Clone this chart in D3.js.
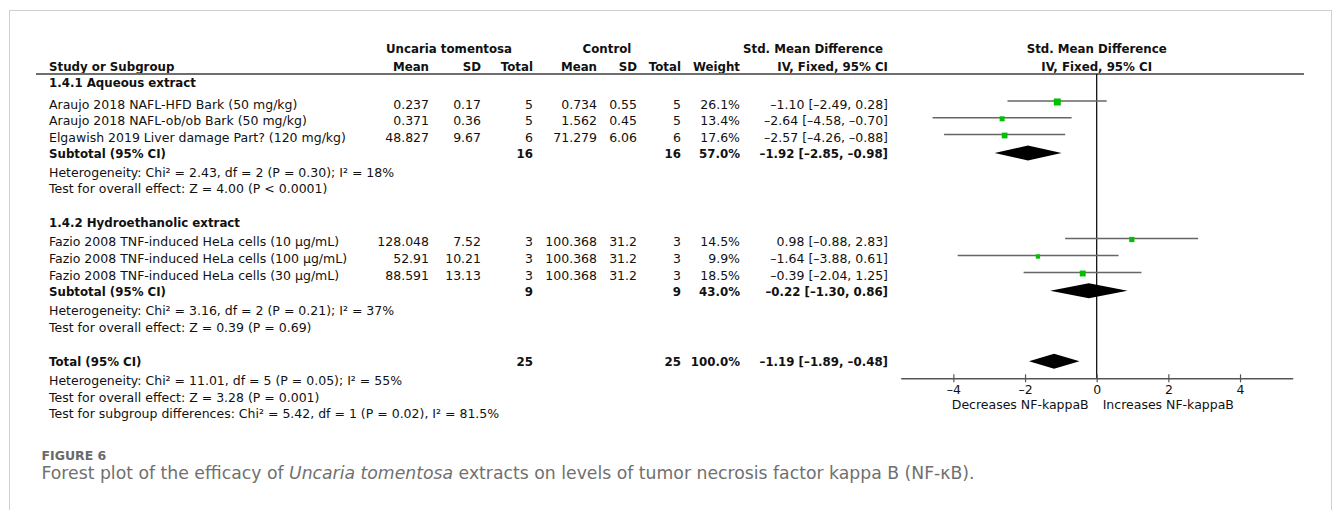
<!DOCTYPE html>
<html>
<head>
<meta charset="utf-8">
<script src="https://cdn.jsdelivr.net/npm/d3@7"></script>
<style>
  body { margin: 0; background: #fff; }
  svg { display: block; }
  text { font-family: "DejaVu Sans", sans-serif; fill: #111; }
</style>
</head>
<body>
<svg id="chart" width="1333" height="510"></svg>
<script>
// ---- Study-level data ----
const studyNames = [
  "Araujo 2018 NAFL-HFD Bark (50 mg/kg)",
  "Araujo 2018 NAFL-ob/ob Bark (50 mg/kg)",
  "Elgawish 2019 Liver damage Part? (120 mg/kg)",
  "Fazio 2008 TNF-induced HeLa cells (10 µg/mL)",
  "Fazio 2008 TNF-induced HeLa cells (100 µg/mL)",
  "Fazio 2008 TNF-induced HeLa cells (30 µg/mL)"
];
const studyGroup = [0, 0, 0, 1, 1, 1];
const utMean  = ["0.237", "0.371", "48.827", "128.048", "52.91", "88.591"];
const utSD    = ["0.17", "0.36", "9.67", "7.52", "10.21", "13.13"];
const utN     = [5, 5, 6, 3, 3, 3];
const ctlMean = ["0.734", "1.562", "71.279", "100.368", "100.368", "100.368"];
const ctlSD   = ["0.55", "0.45", "6.06", "31.2", "31.2", "31.2"];
const ctlN    = [5, 5, 6, 3, 3, 3];
const weight  = [26.1, 13.4, 17.6, 14.5, 9.9, 18.5];
const smd     = [-1.10, -2.64, -2.57, 0.98, -1.64, -0.39];
const ciLow   = [-2.49, -4.58, -4.26, -0.88, -3.88, -2.04];
const ciHigh  = [0.28, -0.70, -0.88, 2.83, 0.61, 1.25];

// ---- Subgroup data ----
const groupNames = ["1.4.1 Aqueous extract", "1.4.2 Hydroethanolic extract"];
const subUtN     = [16, 9];
const subCtlN    = [16, 9];
const subWeight  = [57.0, 43.0];
const subSmd     = [-1.92, -0.22];
const subLow     = [-2.85, -1.30];
const subHigh    = [-0.98, 0.86];
const subHet = [
  "Heterogeneity: Chi² = 2.43, df = 2 (P = 0.30); I² = 18%",
  "Heterogeneity: Chi² = 3.16, df = 2 (P = 0.21); I² = 37%"
];
const subTest = [
  "Test for overall effect: Z = 4.00 (P < 0.0001)",
  "Test for overall effect: Z = 0.39 (P = 0.69)"
];

// ---- Overall pooled estimate ----
const totalUtN = 25, totalCtlN = 25, totalWeight = 100.0;
const totalSmd = -1.19, totalLow = -1.89, totalHigh = -0.48;
const totalNotes = [
  "Heterogeneity: Chi² = 11.01, df = 5 (P = 0.05); I² = 55%",
  "Test for overall effect: Z = 3.28 (P = 0.001)",
  "Test for subgroup differences: Chi² = 5.42, df = 1 (P = 0.02), I² = 81.5%"
];

// ---- Axis ----
const axisTicks = [-4, -2, 0, 2, 4];
const axisLeftLabel = "Decreases NF-kappaB";
const axisRightLabel = "Increases NF-kappaB";

// ---- Layout ----
const col = { study: 49, utMean: 429, utSD: 481, utN: 533, ctlMean: 597, ctlSD: 637, ctlN: 681, weight: 740, ci: 888 };
const studyBaseline = [108.5, 125.3, 142, 246, 263, 280];
const groupBaseline = [87.3, 226.7];
const subBaseline   = [158, 295.7];
const subNoteBaseline = [[176.7, 193.3], [315, 331.7]];
const totalBaseline = 365.7;
const totalNoteBaseline = [385, 401.7, 418.3];
const axisY = 378.3;
const topRule = 74;
const FS = 12.5;      // regular text size
const FSB = 11.8;     // bold text size

const loc = d3.formatLocale({ decimal: ".", thousands: ",", grouping: [3], currency: ["", ""], minus: "\u2013" });
const f2 = loc.format(".2f");
const f1 = loc.format(".1f");
const fTick = loc.format("d");
const ciText = (m, l, h) => `${f2(m)} [${f2(l)}, ${f2(h)}]`;

const svg = d3.select("#chart");

// Outer panel border
svg.append("rect").attr("x", 9.5).attr("y", 10.5).attr("width", 1322).attr("height", 560)
  .attr("fill", "none").attr("stroke", "#cfcfcf").attr("stroke-width", 1);

const x = d3.scaleLinear().domain([-5.47, 5.47]).range([900.7, 1292.7]);
const boxSize = d3.scaleSqrt().domain([0, 26.1]).range([0, 7]);

function txt(xp, yp, s, anchor = "start", bold = false) {
  return svg.append("text").attr("x", xp).attr("y", yp).attr("text-anchor", anchor)
    .attr("font-size", bold ? FSB : FS).attr("font-weight", bold ? "bold" : "normal").text(s);
}

// Column headers
txt(449, 53, "Uncaria tomentosa", "middle", true);
txt(607, 53, "Control", "middle", true);
txt(883, 53, "Std. Mean Difference", "end", true);
txt(x(0), 53, "Std. Mean Difference", "middle", true);
txt(col.study, 70.7, "Study or Subgroup", "start", true);
txt(col.utMean, 70.7, "Mean", "end", true);
txt(col.utSD, 70.7, "SD", "end", true);
txt(col.utN, 70.7, "Total", "end", true);
txt(col.ctlMean, 70.7, "Mean", "end", true);
txt(col.ctlSD, 70.7, "SD", "end", true);
txt(col.ctlN, 70.7, "Total", "end", true);
txt(col.weight, 70.7, "Weight", "end", true);
txt(col.ci, 70.7, "IV, Fixed, 95% CI", "end", true);
txt(x(0), 70.7, "IV, Fixed, 95% CI", "middle", true);

svg.append("line").attr("x1", 36).attr("x2", 1304).attr("y1", topRule).attr("y2", topRule)
  .attr("stroke", "#6e6e6e").attr("stroke-width", 2);

// Group headers, subtotals and notes
groupNames.forEach((g, i) => {
  txt(col.study, groupBaseline[i], g, "start", true);
  txt(col.study, subBaseline[i], "Subtotal (95% CI)", "start", true);
  txt(col.utN, subBaseline[i], subUtN[i], "end", true);
  txt(col.ctlN, subBaseline[i], subCtlN[i], "end", true);
  txt(col.weight, subBaseline[i], f1(subWeight[i]) + "%", "end", true);
  txt(col.ci, subBaseline[i], ciText(subSmd[i], subLow[i], subHigh[i]), "end", true);
  txt(col.study, subNoteBaseline[i][0], subHet[i]);
  txt(col.study, subNoteBaseline[i][1], subTest[i]);
});

// Study rows
studyNames.forEach((s, i) => {
  const y = studyBaseline[i];
  txt(col.study, y, s);
  txt(col.utMean, y, utMean[i], "end");
  txt(col.utSD, y, utSD[i], "end");
  txt(col.utN, y, utN[i], "end");
  txt(col.ctlMean, y, ctlMean[i], "end");
  txt(col.ctlSD, y, ctlSD[i], "end");
  txt(col.ctlN, y, ctlN[i], "end");
  txt(col.weight, y, f1(weight[i]) + "%", "end");
  txt(col.ci, y, ciText(smd[i], ciLow[i], ciHigh[i]), "end");
});

// Total row
txt(col.study, totalBaseline, "Total (95% CI)", "start", true);
txt(col.utN, totalBaseline, totalUtN, "end", true);
txt(col.ctlN, totalBaseline, totalCtlN, "end", true);
txt(col.weight, totalBaseline, f1(totalWeight) + "%", "end", true);
txt(col.ci, totalBaseline, ciText(totalSmd, totalLow, totalHigh), "end", true);
totalNotes.forEach((n, i) => txt(col.study, totalNoteBaseline[i], n));

// Line of no effect
svg.append("line").attr("x1", x(0)).attr("x2", x(0)).attr("y1", topRule).attr("y2", axisY)
  .attr("stroke", "#000").attr("stroke-width", 1.2);

// Confidence intervals and weighted boxes
const plot = svg.append("g");
plot.selectAll("line.ci").data(studyNames).join("line").attr("class", "ci")
  .attr("x1", (d, i) => x(ciLow[i])).attr("x2", (d, i) => x(ciHigh[i]))
  .attr("y1", (d, i) => studyBaseline[i] - 7.5).attr("y2", (d, i) => studyBaseline[i] - 7.5)
  .attr("stroke", "#666").attr("stroke-width", 1.4);
plot.selectAll("rect.box").data(studyNames).join("rect").attr("class", "box")
  .attr("x", (d, i) => x(smd[i]) - boxSize(weight[i]) / 2)
  .attr("y", (d, i) => studyBaseline[i] - 6.5 - boxSize(weight[i]) / 2)
  .attr("width", (d, i) => boxSize(weight[i])).attr("height", (d, i) => boxSize(weight[i]))
  .attr("fill", "#00c000");

// Pooled diamonds
function diamond(m, l, h, yc) {
  const hh = 7.5;
  plot.append("path")
    .attr("d", `M${x(l)},${yc} L${x(m)},${yc - hh} L${x(h)},${yc} L${x(m)},${yc + hh} Z`)
    .attr("fill", "#000");
}
subSmd.forEach((m, i) => diamond(m, subLow[i], subHigh[i], subBaseline[i] - 5));
diamond(totalSmd, totalLow, totalHigh, totalBaseline - 4.5);

// Effect-size axis
const axisG = svg.append("g").attr("transform", `translate(0,${axisY})`)
  .call(d3.axisBottom(x).tickValues(axisTicks).tickSizeInner(4).tickSizeOuter(0).tickFormat(fTick));
axisG.select(".domain").attr("stroke", "#555").attr("stroke-width", 1.4);
axisG.selectAll(".tick line").attr("y1", -4).attr("y2", 4).attr("stroke", "#555").attr("stroke-width", 1.2);
axisG.selectAll(".tick text").attr("y", 16).attr("dy", 0).attr("font-size", FS)
  .attr("font-family", "DejaVu Sans").attr("fill", "#111");
txt(x(0) - 8, 408.5, axisLeftLabel, "end");
txt(x(0) + 6, 408.5, axisRightLabel, "start");

// Figure caption
svg.append("text").attr("x", 41.5).attr("y", 460).attr("font-family", "Open Sans")
  .attr("font-size", 12.5).attr("font-weight", 600).style("fill", "#6a6a6a").text("FIGURE 6");
const cap = svg.append("text").attr("x", 41.5).attr("y", 479).attr("font-family", "Open Sans")
  .attr("font-size", 17.25).style("fill", "#707070");
cap.append("tspan").text("Forest plot of the efficacy of ");
cap.append("tspan").attr("font-style", "italic").text("Uncaria tomentosa");
cap.append("tspan").text(" extracts on levels of tumor necrosis factor kappa B (NF-κB).");
</script>
</body>
</html>
